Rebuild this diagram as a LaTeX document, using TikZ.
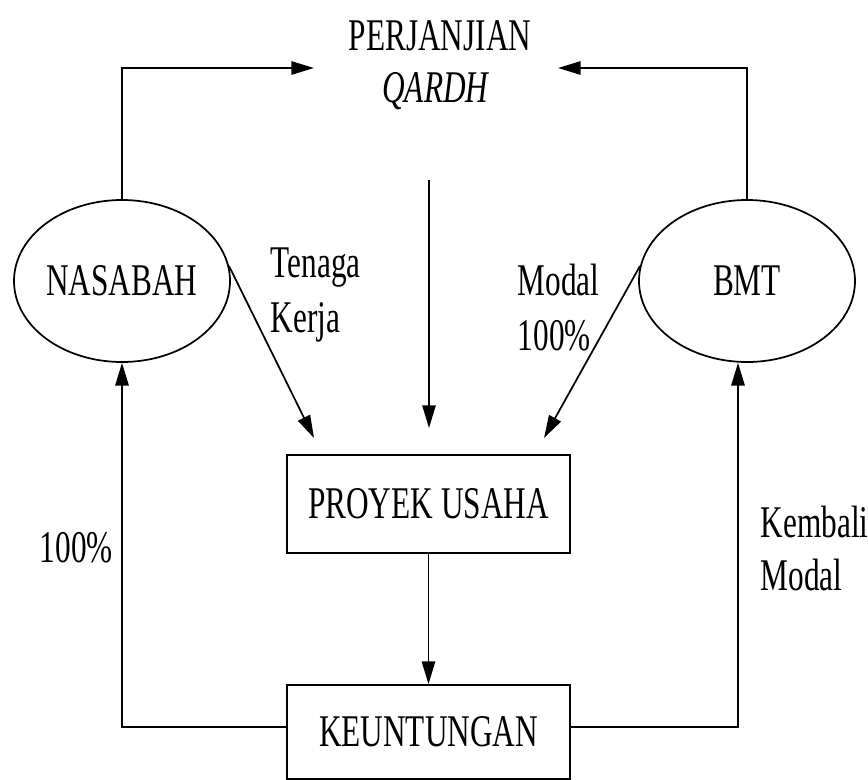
\documentclass[tikz,border=0pt]{standalone}
\usepackage{fontspec}
\setmainfont{Liberation Serif}[FakeStretch=0.69]
\usetikzlibrary{shapes.geometric,arrows.meta}
\begin{document}
\begin{tikzpicture}[x=0.75pt,y=-0.75pt,
  line width=1.3pt,
  arr/.style={-{Triangle[length=17pt,width=10pt]}},
  txt/.style={inner sep=0pt, font=\fontsize{34}{40}\selectfont},
  ell/.style={draw, ellipse, inner sep=0pt, minimum width=162pt, minimum height=121.5pt, font=\fontsize{34}{40}\selectfont},
  boxn/.style={draw, rectangle, inner sep=0pt, minimum width=212.25pt, font=\fontsize{34}{40}\selectfont}]
\useasboundingbox (0,0) rectangle (868,779);
\node[txt, anchor=base] (perj) at (440,50) {PERJANJIAN};
\node[txt, anchor=base] (qardh) at (436,102) {\textit{QARDH}};
\node[ell] (nas) at (122,281) {NASABAH};
\node[ell] (bmt) at (747,281) {BMT};
\node[boxn, minimum height=73.5pt] (proy) at (428.5,504) {PROYEK USAHA};
\node[boxn, minimum height=70.5pt] (keun) at (428.5,732) {KEUNTUNGAN};
\node[txt, anchor=base west] (tenaga) at (270,277) {Tenaga};
\node[txt, anchor=base west] (kerja) at (270,332) {Kerja};
\node[txt, anchor=base west] (modal) at (517,295) {Modal};
\node[txt, anchor=base west] (pct) at (517,350) {100\%};
\node[txt, anchor=base west] (pctl) at (39,562) {100\%};
\node[txt, anchor=base west] (kembali) at (760,537) {Kembali};
\node[txt, anchor=base west] (modal2) at (760,590) {Modal};
\coordinate (pl) at (314,68);
\coordinate (pr) at (558,68);
\coordinate (c1) at (429,180);
\coordinate (tK) at (314,438);
\coordinate (tM) at (429,428);
\coordinate (tB) at (544,438);
\draw[arr] (nas.north) |- (pl);
\draw[arr] (bmt.north) |- (pr);
\draw[arr] (c1) -- (tM);
\draw[arr] (nas.8) -- (tK);
\draw[arr] (bmt.172) -- (tB);
\draw[arr] (proy.south) -- (keun.north);
\draw[arr] ([yshift=3.75pt]keun.west) -| (nas.south);
\draw[arr] ([yshift=3.75pt]keun.east) -| ([xshift=-6.75pt]bmt.south);
\end{tikzpicture}
\end{document}
